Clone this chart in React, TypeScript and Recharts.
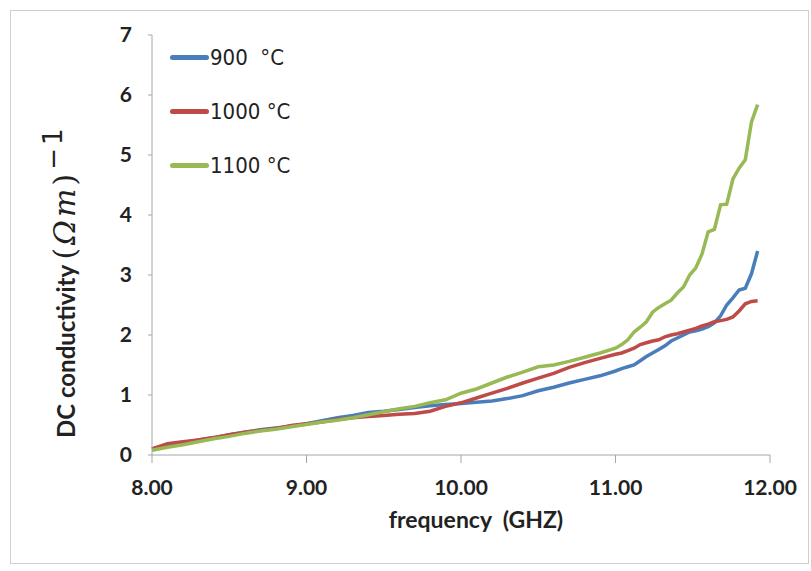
import { LineChart, Line, XAxis, YAxis, Legend } from 'recharts';

// frequency (GHz)
const freq = [
  8.0, 8.1, 8.2, 8.3, 8.4, 8.5, 8.6, 8.7, 8.8, 8.9, 9.0, 9.1, 9.2, 9.3, 9.4, 9.5,
  9.6, 9.7, 9.8, 9.9, 10.0, 10.1, 10.2, 10.3, 10.4, 10.5, 10.6, 10.7, 10.8, 10.9,
  11.0, 11.04, 11.08, 11.12, 11.16, 11.2, 11.24, 11.28, 11.32, 11.36, 11.4, 11.44,
  11.48, 11.52, 11.56, 11.6, 11.64, 11.68, 11.72, 11.76, 11.8, 11.84, 11.88, 11.92,
];

const s900 = [
  0.1, 0.15, 0.2, 0.25, 0.29, 0.34, 0.38, 0.42, 0.45, 0.48, 0.52, 0.57, 0.62, 0.66,
  0.71, 0.73, 0.76, 0.79, 0.82, 0.84, 0.86, 0.88, 0.9, 0.94, 0.99, 1.07, 1.13,
  1.2, 1.26, 1.32, 1.4, 1.44, 1.47, 1.5, 1.57, 1.64, 1.7, 1.76, 1.82, 1.9, 1.95,
  2.0, 2.05, 2.07, 2.1, 2.14, 2.2, 2.32, 2.5, 2.62, 2.75, 2.78, 3.02, 3.4,
];

const s1000 = [
  0.1, 0.19, 0.22, 0.25, 0.29, 0.34, 0.38, 0.41, 0.44, 0.49, 0.52, 0.55, 0.59,
  0.62, 0.64, 0.66, 0.68, 0.69, 0.73, 0.81, 0.87, 0.95, 1.03, 1.11, 1.2, 1.28,
  1.36, 1.46, 1.54, 1.61, 1.68, 1.7, 1.74, 1.78, 1.84, 1.87, 1.9, 1.92, 1.97, 2.0,
  2.02, 2.05, 2.08, 2.11, 2.15, 2.18, 2.22, 2.24, 2.26, 2.3, 2.4, 2.52, 2.56, 2.57,
];

const s1100 = [
  0.08, 0.13, 0.17, 0.22, 0.27, 0.31, 0.36, 0.4, 0.43, 0.47, 0.51, 0.55, 0.58,
  0.62, 0.67, 0.72, 0.77, 0.81, 0.87, 0.92, 1.03, 1.1, 1.2, 1.3, 1.38, 1.47, 1.5,
  1.56, 1.63, 1.7, 1.78, 1.84, 1.92, 2.05, 2.13, 2.22, 2.38, 2.46, 2.52, 2.58, 2.7,
  2.8, 3.0, 3.12, 3.35, 3.72, 3.76, 4.17, 4.18, 4.6, 4.78, 4.92, 5.55, 5.84,
];

const xTicks = [8, 9, 10, 11, 12];
const yTicks = [0, 1, 2, 3, 4, 5, 6, 7];

const series = [
  { key: 's900', name: '900  °C', color: '#4a7ebb' },
  { key: 's1000', name: '1000 °C', color: '#be4b48' },
  { key: 's1100', name: '1100 °C', color: '#98b954' },
];

const data = freq.map((f, i) => ({
  f,
  s900: s900[i],
  s1000: s1000[i],
  s1100: s1100[i],
}));

const axisColor = '#a6a6a6';
const tickFont = 'Lato, "Open Sans", sans-serif';
const mathFont = '"DejaVu Serif", serif';

const LegendBox = () => (
  <div>
    {series.map((s) => (
      <div
        key={s.key}
        style={{ display: 'flex', alignItems: 'center', height: 54 }}
      >
        <div
          style={{
            width: 39,
            height: 5,
            borderRadius: 3,
            background: s.color,
          }}
        />
        <span
          style={{
            whiteSpace: 'pre',
            fontFamily: '"Liberation Sans Narrow", "DejaVu Sans Condensed", sans-serif',
            fontSize: 22,
            color: '#222',
            marginLeft: 1,
          }}
        >
          {s.name}
        </span>
      </div>
    ))}
  </div>
);

const App = () => {
  return (
    <div
      style={{
        position: 'absolute',
        left: 0,
        top: 0,
        width: 811,
        height: 571,
        background: '#fff',
      }}
    >
      <div
        style={{
          position: 'absolute',
          left: 10,
          top: 10,
          width: 797,
          height: 552,
          border: '1px solid #cfcfcf',
        }}
      />
      <LineChart
        width={811}
        height={571}
        data={data}
        margin={{ top: 35, right: 41, bottom: 0, left: 0 }}
      >
        <XAxis
          dataKey="f"
          type="number"
          domain={[8, 12]}
          ticks={xTicks}
          height={116}
          tickFormatter={(v: number) => v.toFixed(2)}
          stroke={axisColor}
          tickSize={8}
          tickMargin={17}
          tick={{ fill: '#222', fontSize: 21, fontWeight: 700, fontFamily: tickFont }}
        />
        <YAxis
          type="number"
          domain={[0, 7]}
          ticks={yTicks}
          width={152}
          stroke={axisColor}
          tickSize={4}
          tickMargin={16}
          tick={{ fill: '#222', fontSize: 21, fontWeight: 700, fontFamily: tickFont }}
        />
        <Legend
          layout="horizontal"
          verticalAlign="middle"
          align="center"
          content={<LegendBox />}
          wrapperStyle={{ left: 170, top: 30, width: 200 }}
        />
        {series.map((s) => (
          <Line
            key={s.key}
            dataKey={s.key}
            name={s.name}
            type="linear"
            stroke={s.color}
            strokeWidth={3.5}
            dot={false}
            isAnimationActive={false}
          />
        ))}
        <text
          x={476}
          y={528}
          textAnchor="middle"
          fontFamily={tickFont}
          fontSize={23}
          fontWeight={700}
          fill="#222"
          style={{ whiteSpace: 'pre' }}
        >
          frequency  (GHZ)
        </text>
        <text
          transform="translate(75, 438) rotate(-90)"
          textAnchor="start"
          fontFamily={tickFont}
          fontSize={24}
          fontWeight={700}
          fill="#222"
        >
          DC conductivity{' '}
          <tspan fontFamily={mathFont} fontWeight={400} fontSize={30} letterSpacing={3}>
            (
          </tspan>
          <tspan
            fontFamily={mathFont}
            fontStyle="italic"
            fontWeight={400}
            fontSize={30}
            letterSpacing={3}
          >
            Ωm
          </tspan>
          <tspan fontFamily={mathFont} fontWeight={400} fontSize={30}>
            )
          </tspan>
          <tspan
            fontFamily='"DejaVu Sans", sans-serif'
            fontWeight={400}
            fontSize={26}
            dy={-13}
            dx={4}
            letterSpacing={3}
          >
            −1
          </tspan>
        </text>
      </LineChart>
    </div>
  );
};

export default App;
